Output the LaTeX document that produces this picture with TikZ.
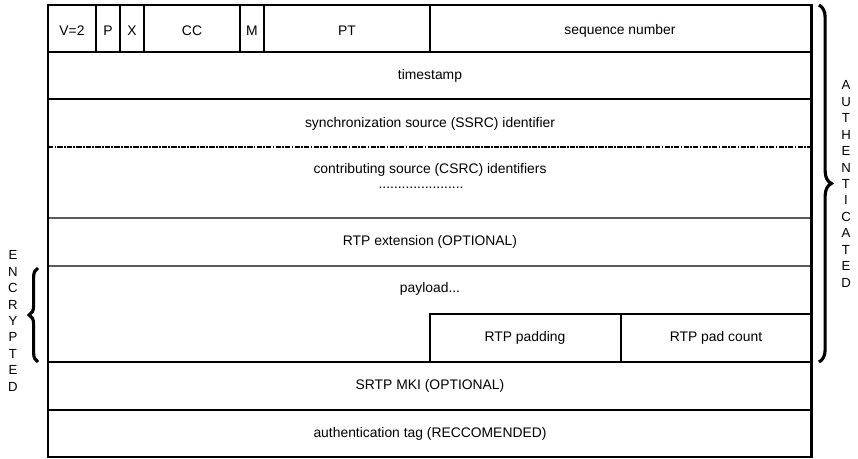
\documentclass[tikz,border=0pt]{standalone}
\usepackage{fontspec}
\setmainfont{Liberation Sans}
\usetikzlibrary{decorations.pathreplacing}

\begin{document}
\begin{tikzpicture}[
        x=0.02cm, y=-0.02cm,
        frame/.style={line width=1.7pt},
        heavy/.style={line width=1.1pt},
        light/.style={line width=0.6pt},
        grayline/.style={line width=0.9pt, black!65},
        csrcline/.style={line width=1.2pt, dash pattern=on 3pt off 0.7pt on 1pt off 0.7pt},
        field/.style={font=\fontsize{7.9}{9}\selectfont, inner sep=0pt},
        vlabel/.style={font=\fontsize{7.5}{9.35}\selectfont, align=center, inner sep=0pt},
        bracket/.style={decorate, line width=1.8pt}
    ]
        \useasboundingbox (0,0) rectangle (858,459);

        % Header row: V, P, X, CC, M, PT, sequence number
        \draw[light] (96,5) -- (96,52);
        \draw[light] (120,5) -- (120,52);
        \draw[light] (144,5) -- (144,52);
        \draw[light] (240,5) -- (240,52);
        \draw[light] (264,5) -- (264,52);
        \draw[light] (430,5) -- (430,52);
        \node[field] (ver) at (72,31) {V=2};
        \node[field] (pad) at (108,31) {P};
        \node[field] (ext) at (132,31) {X};
        \node[field] (cc) at (192,31) {CC};
        \node[field] (mark) at (252,31) {M};
        \node[field] (pt) at (347,31) {PT};
        \node[field] (seq) at (620,31) {sequence number};

        % Row separators
        \draw[light] (48,52) -- (811,52);
        \draw[heavy] (48,99) -- (811,99);
        \draw[csrcline] (48,147) -- (811,147);
        \draw[grayline] (48,218) -- (811,218);
        \draw[grayline] (48,266) -- (811,266);
        \draw[heavy] (48,362) -- (811,362);
        \draw[light] (48,410) -- (811,410);

        % Padding cells at the end of the payload
        \draw[light] (430,362) -- (430,314) -- (811,314);
        \draw[light] (621,314) -- (621,362);

        % Field labels
        \node[field] (ts) at (430,76) {timestamp};
        \node[field] (ssrc) at (430,124) {synchronization source (SSRC) identifier};
        \node[field] (csrc) at (430,170) {contributing source (CSRC) identifiers};
        \node[field] (csrcdots) at (421,188) {......................};
        \node[field] (rtpext) at (430,242) {RTP extension (OPTIONAL)};
        \node[field] (payload) at (430,289) {payload...};
        \node[field] (rtppad) at (525,338) {RTP padding};
        \node[field] (padcount) at (716,338) {RTP pad count};
        \node[field] (mki) at (430,386) {SRTP MKI (OPTIONAL)};
        \node[field] (authtag) at (430,434) {authentication tag (RECCOMENDED)};

        % Outer frame
        \draw[frame] (48,5) rectangle (811,457);

        % Braces
        \draw[bracket, decoration={brace, amplitude=7pt}] (819,5) -- (819,362);
        \draw[bracket, decoration={brace, amplitude=5pt}] (38,362) -- (38,268);
        \node[vlabel] (authlbl) at (846,184) {A\\U\\T\\H\\E\\N\\T\\I\\C\\A\\T\\E\\D};
        \node[vlabel] (enclbl) at (13,321) {E\\N\\C\\R\\Y\\P\\T\\E\\D};
    \end{tikzpicture}
\end{document}
